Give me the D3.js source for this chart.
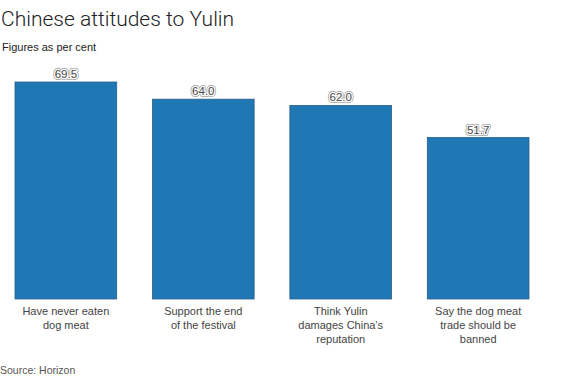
<!DOCTYPE html>
<html>
<head>
<meta charset="utf-8">
<script src="https://cdn.jsdelivr.net/npm/d3@7"></script>
<style>
  body { margin: 0; background: #fff; font-family: "Liberation Sans", Arial, sans-serif; }
</style>
</head>
<body>
<div id="viz"></div>
<script>
const categories = [
  ["Have never eaten", "dog meat"],
  ["Support the end", "of the festival"],
  ["Think Yulin", "damages China\u2019s", "reputation"],
  ["Say the dog meat", "trade should be", "banned"]
];
const values = [69.5, 64.0, 62.0, 51.7];
const valueLabels = ["69.5", "64.0", "62.0", "51.7"];

function draw() {
  const dms = { width: 564, height: 376 };

  const svg = d3.select("#viz")
    .append("svg")
      .attr("width", dms.width)
      .attr("height", dms.height);

  // titles
  svg.append("text")
    .attr("x", 1).attr("y", 26)
    .attr("font-size", 21)
    .attr("font-family", "Roboto, 'Liberation Sans', sans-serif")
    .attr("font-weight", 300)
    .attr("fill", "#222")
    .text("Chinese attitudes to Yulin");

  svg.append("text")
    .attr("x", 2).attr("y", 51)
    .attr("font-size", 11)
    .attr("fill", "#222")
    .text("Figures as per cent");

  // scales
  const idx = values.map((d, i) => i);
  const x = d3.scaleBand()
    .domain(idx)
    .range([15, 529])
    .paddingInner(0.26)
    .paddingOuter(0);

  const y = d3.scaleLinear()
    .domain([0, 69.5])
    .range([299, 82]);

  const g = svg.append("g");

  g.selectAll("rect")
    .data(idx)
    .join("rect")
      .attr("x", i => x(i))
      .attr("y", i => y(values[i]))
      .attr("width", x.bandwidth())
      .attr("height", i => y(0) - y(values[i]))
      .attr("fill", "#1f77b4")
      .attr("stroke", "#2a5f8a")
      .attr("stroke-width", 0.8);

  // value labels with halo
  const lab = g.selectAll("g.val")
    .data(idx)
    .join("g")
      .attr("class", "val")
      .attr("transform", i => `translate(${x(i) + x.bandwidth() / 2},${y(values[i]) - 4})`);

  lab.append("text")
    .attr("text-anchor", "middle")
    .attr("font-size", 11.5)
    .attr("stroke", "#999")
    .attr("stroke-width", 4)
    .attr("stroke-linejoin", "round")
    .attr("fill", "#999")
    .text(i => valueLabels[i]);
  lab.append("text")
    .attr("text-anchor", "middle")
    .attr("font-size", 11.5)
    .attr("stroke", "#fff")
    .attr("stroke-width", 2.6)
    .attr("stroke-linejoin", "round")
    .attr("fill", "#fff")
    .text(i => valueLabels[i]);
  lab.append("text")
    .attr("text-anchor", "middle")
    .attr("font-size", 11.5)
    .attr("fill", "#444")
    .text(i => valueLabels[i]);

  // category labels
  const cat = g.selectAll("text.cat")
    .data(idx)
    .join("text")
      .attr("class", "cat")
      .attr("text-anchor", "middle")
      .attr("font-size", 11)
      .attr("fill", "#444")
      .attr("transform", i => `translate(${x(i) + x.bandwidth() / 2},315)`);

  cat.selectAll("tspan")
    .data(i => categories[i])
    .join("tspan")
      .attr("x", 0)
      .attr("y", (d, j) => j * 13.8)
      .text(d => d);

  svg.append("text")
    .attr("x", 0).attr("y", 374)
    .attr("font-size", 10.5)
    .attr("fill", "#555")
    .text("Source: Horizon");
}

draw();
</script>
</body>
</html>
